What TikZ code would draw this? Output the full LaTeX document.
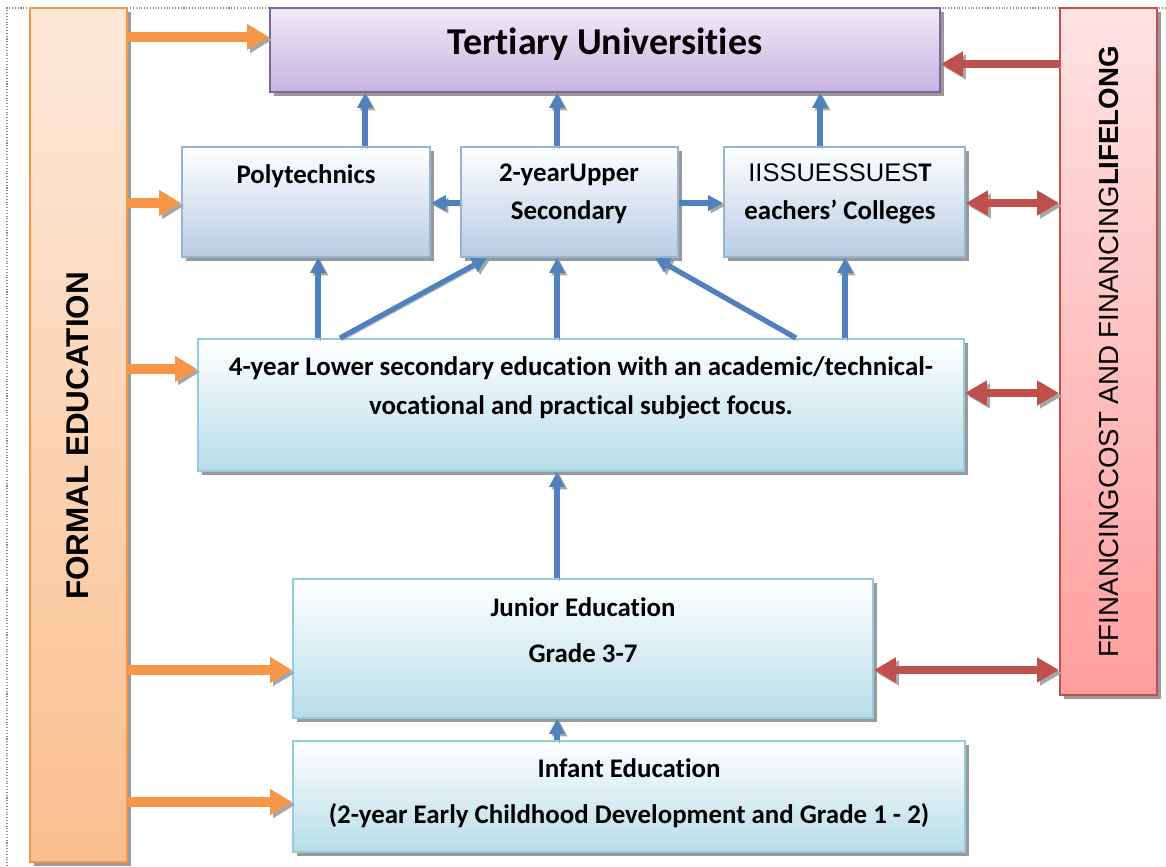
\documentclass[tikz,border=0pt]{standalone}
\usepackage{fontspec}
\setmainfont{Carlito}[Ligatures=NoCommon]
\newfontfamily\arialfont{Liberation Sans}
\usepackage{tikz}
\usetikzlibrary{arrows.meta,shadows}
\usetikzlibrary{positioning}

\definecolor{orangeline}{HTML}{F79646}
\definecolor{orangetop}{HTML}{FDE9D9}
\definecolor{orangebot}{HTML}{FABF8F}
\definecolor{redline}{HTML}{C0504D}
\definecolor{redtop}{HTML}{FFE3E3}
\definecolor{redbot}{HTML}{FF9E9E}
\definecolor{purpleline}{HTML}{8064A2}
\definecolor{purpletop}{HTML}{EFEAF7}
\definecolor{purplebot}{HTML}{C6B4E0}
\definecolor{blueline}{HTML}{95B3D7}
\definecolor{bluebot}{HTML}{B8CCE4}
\definecolor{aqualine}{HTML}{93CDDD}
\definecolor{aquabot}{HTML}{B7DDE8}
\definecolor{arrowblue}{HTML}{4F81BD}

\tikzstyle{box} = [rectangle, draw, line width=1.1pt, inner sep=0pt, drop shadow={shadow xshift=2.3pt, shadow yshift=-2.3pt, fill=black!40, opacity=1}]
\tikzstyle{formalbox} = [box, draw=orangeline, top color=orangetop, bottom color=orangebot]
\tikzstyle{lifebox} = [box, draw=redline, top color=redtop, bottom color=redbot]
\tikzstyle{unibox} = [box, draw=purpleline, top color=purpletop, bottom color=purplebot]
\tikzstyle{collegebox} = [box, draw=blueline, top color=white, bottom color=bluebot]
\tikzstyle{schoolbox} = [box, draw=aqualine, top color=white, bottom color=aquabot]
\tikzstyle{boxtext} = [inner sep=0pt, align=center, font=\bfseries\fontsize{15.3}{18}\selectfont]
\tikzstyle{feed} = [line width=5.6pt, draw=orangeline, -{Triangle[width=14pt,length=12.5pt]}, preaction={draw=black!35, transform canvas={xshift=1.7pt,yshift=-1.7pt}}]
\tikzstyle{link} = [line width=4.8pt, draw=redline, {Triangle[width=13.5pt,length=12.5pt]}-{Triangle[width=13.5pt,length=12.5pt]}, preaction={draw=black!35, transform canvas={xshift=1.7pt,yshift=-1.7pt}}]
\tikzstyle{back} = [line width=4.8pt, draw=redline, -{Triangle[width=13.5pt,length=12.5pt]}, preaction={draw=black!35, transform canvas={xshift=1.7pt,yshift=-1.7pt}}]
\tikzstyle{up} = [line width=3pt, draw=arrowblue, -{Triangle[width=8.5pt,length=8.5pt]}, preaction={draw=black!35, transform canvas={xshift=1.4pt,yshift=-1.4pt}}]

\begin{document}
\begin{tikzpicture}[x=0.02cm, y=-0.02cm]
\useasboundingbox (0,0) rectangle (1166,866);
\draw[black!45, densely dotted, line width=0.6pt] (7,866) -- (7,8) -- (1166,8);

% side bars
\node[formalbox, minimum width=1.94cm, minimum height=17.08cm] (formal) at (78.5,435) {};
\node[rotate=90, inner sep=0pt, font=\arialfont\bfseries\fontsize{17.9}{20}\selectfont] (formaltext) at (78,436) {FORMAL EDUCATION};
\node[lifebox, minimum width=1.94cm, minimum height=13.74cm] (life) at (1108.5,351.5) {};
\node[rotate=90, inner sep=0pt, font=\arialfont\fontsize{15.75}{18}\selectfont] (lifetext) at (1109,352) {FFINANCINGCOST AND FINANCING\textbf{LIFELONG}};

% boxes
\node[unibox, minimum width=13.4cm, minimum height=1.68cm] (tert) at (605,50) {};
\node[inner sep=0pt, font=\bfseries\fontsize{21.6}{25}\selectfont] (terttext) at (605,44) {Tertiary Universities};
\node[collegebox, minimum width=4.96cm, minimum height=2.2cm] (poly) at (306,202) {};
\node[boxtext] (polytext) at (306,176) {Polytechnics};
\node[collegebox, minimum width=4.34cm, minimum height=2.2cm] (upper) at (569.5,202) {};
\node[boxtext] (uppertext) at (569,194) {2-yearUpper\\[3.5pt]Secondary};
\node[collegebox, minimum width=4.82cm, minimum height=2.2cm] (teach) at (844.5,202) {};
\node[boxtext] (teachtext) at (840,194) {{\arialfont\mdseries\fontsize{14.5}{17}\selectfont IISSUESSUES}T\\[3.5pt]eachers’ Colleges};
\node[schoolbox, minimum width=15.32cm, minimum height=2.64cm] (lower) at (581,405) {};
\node[boxtext] (lowertext) at (581,388) {4-year Lower secondary education with an academic/technical-\\[4pt]vocational and practical subject focus.};
\node[schoolbox, minimum width=11.6cm, minimum height=2.78cm] (junior) at (583,648.5) {};
\node[boxtext] (juniortext) at (583,630) {Junior Education\\[8pt]Grade 3-7};
\node[schoolbox, minimum width=13.44cm, minimum height=2.22cm] (infant) at (629,796.5) {};
\node[boxtext] (infanttext) at (629,793) {Infant Education\\[8pt](2-year Early Childhood Development and Grade 1 - 2)};

% levels
\coordinate (rowtert) at (0,37);
\coordinate (rowlife) at (0,64);
\coordinate (rowmid) at (0,203);
\coordinate (rowlower) at (0,369);
\coordinate (rowlowerb) at (0,393);
\coordinate (rowjunior) at (0,670);
\coordinate (rowinfant) at (0,802);
\coordinate (polyup) at (365,0);
\coordinate (mainup) at (557,0);
\coordinate (teachup) at (820,0);
\coordinate (lowpoly) at (318,0);
\coordinate (lowleft) at (340,0);
\coordinate (upleft) at (487,0);
\coordinate (lowright) at (796,0);
\coordinate (upright) at (655,0);
\coordinate (lowteach) at (845,0);

% formal education arrows
\draw[feed] (formal.east |- rowtert) -- (tert.west |- rowtert);
\draw[feed] (formal.east |- rowmid) -- (poly.west |- rowmid);
\draw[feed] (formal.east |- rowlower) -- (lower.west |- rowlower);
\draw[feed] (formal.east |- rowjunior) -- (junior.west |- rowjunior);
\draw[feed] (formal.east |- rowinfant) -- (infant.west |- rowinfant);

% lifelong arrows
\draw[back] (life.west |- rowlife) -- (tert.east |- rowlife);
\draw[link] (teach.east |- rowmid) -- (life.west |- rowmid);
\draw[link] (lower.east |- rowlowerb) -- (life.west |- rowlowerb);
\draw[link] (junior.east |- rowjunior) -- (life.west |- rowjunior);

% upward arrows
\draw[up] (poly.north -| polyup) -- (tert.south -| polyup);
\draw[up] (upper.north -| mainup) -- (tert.south -| mainup);
\draw[up] (teach.north -| teachup) -- (tert.south -| teachup);
\draw[up] (upper.west |- rowmid) -- (poly.east |- rowmid);
\draw[up] (upper.east |- rowmid) -- (teach.west |- rowmid);
\draw[up] (lower.north -| lowpoly) -- (poly.south -| lowpoly);
\draw[up] (lower.north -| lowleft) -- (upper.south -| upleft);
\draw[up] (lower.north -| mainup) -- (upper.south -| mainup);
\draw[up] (lower.north -| lowright) -- (upper.south -| upright);
\draw[up] (lower.north -| lowteach) -- (teach.south -| lowteach);
\draw[up] (junior.north -| mainup) -- (lower.south -| mainup);
\draw[up] (infant.north -| mainup) -- (junior.south -| mainup);
\end{tikzpicture}
\end{document}
